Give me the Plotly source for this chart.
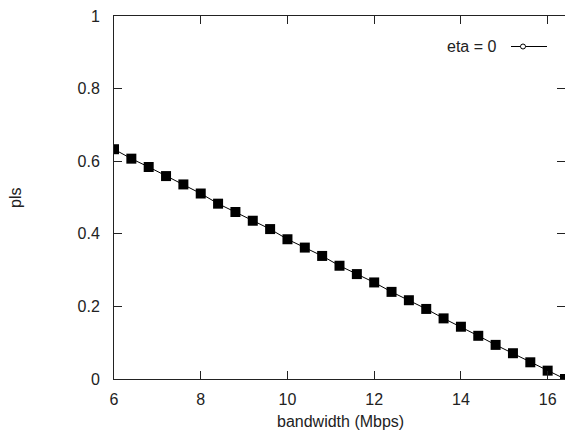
import plotly.graph_objects as go

bandwidth = [6.0, 6.4, 6.8, 7.2, 7.6, 8.0, 8.4, 8.8, 9.2, 9.6, 10.0, 10.4, 10.8, 11.2,
             11.6, 12.0, 12.4, 12.8, 13.2, 13.6, 14.0, 14.4, 14.8, 15.2, 15.6, 16.0, 16.4]
pls = [0.633, 0.607, 0.584, 0.559, 0.536, 0.511, 0.483, 0.460, 0.436, 0.413, 0.385,
       0.362, 0.339, 0.312, 0.289, 0.266, 0.240, 0.217, 0.193, 0.167, 0.144, 0.119,
       0.094, 0.071, 0.046, 0.023, 0.0]
x_ticks = [6, 8, 10, 12, 14, 16]
y_ticks = [0, 0.2, 0.4, 0.6, 0.8, 1]
series_name = "eta = 0"
x_title = "bandwidth (Mbps)"
y_title = "pls"

FONT = "Liberation Sans, Arial, sans-serif"
FS = 16

fig = go.Figure()
fig.add_trace(go.Scatter(
    x=bandwidth, y=pls, mode="lines+markers", name=series_name,
    line=dict(color="black", width=1),
    marker=dict(symbol="square", size=10, color="black"),
    showlegend=False,
))

L, R, T, B = 114, 0, 16, 54
W, H = 565, 433
pw, ph = W - L - R, H - T - B

def px(xp):
    return (xp - L) / pw

def py(yp):
    return (H - B - yp) / ph

fig.update_layout(
    width=W, height=H,
    margin=dict(l=L, r=R, t=T, b=B, autoexpand=False),
    paper_bgcolor="white", plot_bgcolor="white",
    font=dict(family=FONT, size=FS, color="#222"),
    xaxis=dict(
        range=[6, 16.4], tickvals=x_ticks, ticktext=[str(v) for v in x_ticks],
        ticks="inside", ticklen=8, tickcolor="#222", showline=True, linecolor="#222",
        linewidth=1, mirror="ticks", showgrid=False, zeroline=False,
        automargin=False, ticklabelstandoff=6,
    ),
    yaxis=dict(
        range=[0, 1], tickvals=y_ticks, ticktext=[("%g" % v) for v in y_ticks],
        ticks="inside", ticklen=8, tickcolor="#222", showline=True, linecolor="#222",
        linewidth=1, mirror="ticks", showgrid=False, zeroline=False,
        automargin=False, ticklabelstandoff=10,
    ),
    annotations=[
        dict(x=px(498), y=py(46.5), xref="paper", yref="paper", text=series_name,
             showarrow=False, xanchor="right", yanchor="middle", font=dict(size=FS)),
        dict(x=px(340), y=py(421), xref="paper", yref="paper", text=x_title,
             showarrow=False, xanchor="center", yanchor="middle", font=dict(size=FS)),
        dict(x=px(16), y=py(198), xref="paper", yref="paper", text=y_title,
             showarrow=False, xanchor="center", yanchor="middle", textangle=-90,
             font=dict(size=FS)),
    ],
    shapes=[
        dict(type="line", xref="paper", yref="paper", x0=px(511), x1=px(547),
             y0=py(46.5), y1=py(46.5), line=dict(color="black", width=1)),
        dict(type="circle", xref="paper", yref="paper", x0=px(520.5), x1=px(525.5),
             y0=py(49), y1=py(44), line=dict(color="black", width=1), fillcolor="white"),
    ],
)

fig.write_html(
    "out.html",
    config={"displayModeBar": False},
    post_script="document.body.style.margin='0';document.body.style.overflow='hidden';",
)
